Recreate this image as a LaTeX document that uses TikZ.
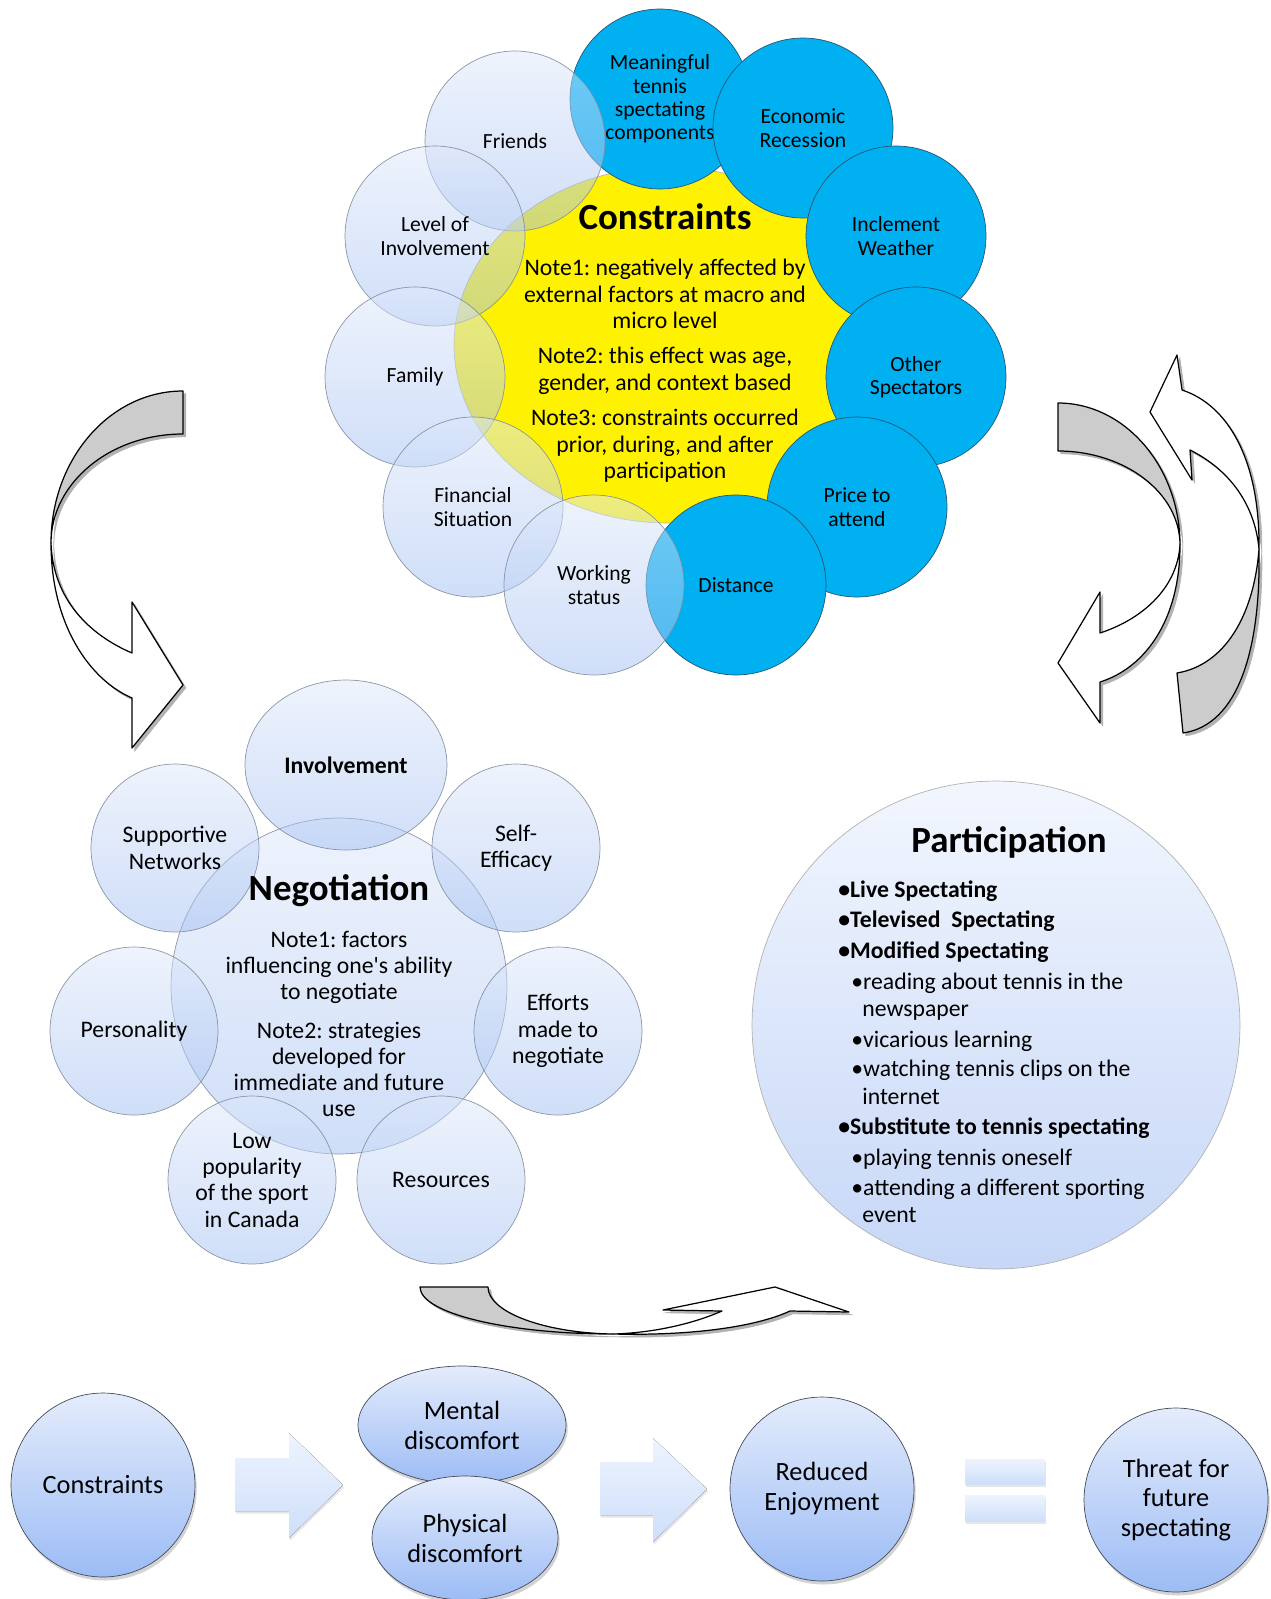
\documentclass[tikz,border=0pt]{standalone}
\usepackage{fontspec}
\setmainfont{Carlito}
\usetikzlibrary{shapes.geometric,shadows}
\frenchspacing

\definecolor{skyblue}{RGB}{0,176,240}
\definecolor{skyline}{RGB}{40,85,115}
\definecolor{paletop}{RGB}{222,232,250}
\definecolor{palebot}{RGB}{160,190,242}
\definecolor{paleline}{RGB}{130,140,160}
\definecolor{parttop}{RGB}{242,246,254}
\definecolor{partbot}{RGB}{198,215,247}
\definecolor{bubtop}{RGB}{228,236,252}
\definecolor{bubbot}{RGB}{156,188,245}
\definecolor{arrtop}{RGB}{238,244,254}
\definecolor{arrbot}{RGB}{206,223,250}
\definecolor{ribbongray}{RGB}{204,204,204}

\tikzset{
  skycirc/.style={circle, draw=skyline, fill=skyblue, minimum size=3.6cm, inner sep=0pt,
    align=center, font=\fontsize{12.3}{13.3}\selectfont},
  lite/.style={circle, draw=paleline, top color=paletop, bottom color=palebot,
    fill opacity=0.5, draw opacity=0.9, text opacity=1, minimum size=3.6cm, inner sep=0pt,
    align=center, font=\fontsize{12.3}{13.3}\selectfont},
  negcirc/.style={lite, minimum size=3.36cm, font=\fontsize{13.5}{15}\selectfont},
  note/.style={align=center, font=\fontsize{13.5}{15.1}\selectfont},
  headline/.style={font=\bfseries\fontsize{21}{25}\selectfont},
  bub/.style={ellipse, draw={rgb,255:red,70;green,75;blue,90}, top color=bubtop, bottom color=bubbot,
    drop shadow={opacity=0.35, shadow xshift=1pt, shadow yshift=-2pt},
    inner sep=0pt, align=center, font=\fontsize{15}{17}\selectfont},
  blockarrow/.style={top color=arrtop, bottom color=arrbot,
    drop shadow={opacity=0.2, shadow xshift=0.5pt, shadow yshift=-1.5pt}},
  ribbon/.style={draw=black, line width=0.7pt, line join=round,
    preaction={fill=gray!60, draw=gray!60, transform canvas={xshift=1.6pt, yshift=-1.6pt}}},
  listline/.style={anchor=west, text height=1.5ex, text depth=0.25ex, inner sep=0pt,
    font=\fontsize{13.5}{15}\selectfont}
}

\begin{document}
\begin{tikzpicture}[x=0.02cm, y=-0.02cm]
  \useasboundingbox (0,0) rectangle (1271,1599);

  % constraints
  \node[ellipse, draw=gray!60, fill=yellow, minimum width=8.56cm, minimum height=7.12cm] (core) at (668,345) {};
  \node[skycirc] (meaning) at (660,99) {Meaningful\\tennis\\spectating\\components};
  \node[skycirc] (econ) at (803,128) {Economic\\Recession};
  \node[skycirc] (weather) at (896,236) {Inclement\\Weather};
  \node[skycirc] (others) at (916,377) {Other\\Spectators};
  \node[skycirc] (price) at (857,507) {Price to\\attend};
  \node[skycirc] (dist) at (736,585) {Distance};
  \node[lite] (friends) at (515,141) {Friends};
  \node[lite] (level) at (435,236) {Level of\\Involvement};
  \node[lite] (family) at (415,377) {Family};
  \node[lite] (finance) at (473,507) {Financial\\Situation};
  \node[lite] (work) at (594,585) {Working\\status};
  \node[headline] (ctitle) at (665,217) {Constraints};
  \node[note] (cnote1) at (665,294) {Note1: negatively affected by\\external factors at macro and\\micro level};
  \node[note] (cnote2) at (665,371) {Note2: this effect was age,\\gender, and context based};
  \node[note] (cnote3) at (665,446) {Note3: constraints occurred\\prior, during, and after\\participation};

  % negotiation
  \node[negcirc, minimum size=6.72cm] (nego) at (339,986) {};
  \node[negcirc, ellipse, minimum width=4.04cm, minimum height=3.4cm, font=\bfseries\fontsize{13.5}{15}\selectfont] (invol) at (346,765) {Involvement};
  \node[negcirc] (support) at (175,848) {Supportive\\Networks};
  \node[negcirc] (selfeff) at (516,848) {Self-\\Efficacy};
  \node[negcirc] (person) at (134,1031) {Personality};
  \node[negcirc] (efforts) at (558,1031) {Efforts\\made to\\negotiate};
  \node[negcirc] (lowpop) at (252,1180) {Low\\popularity\\of the sport\\in Canada};
  \node[negcirc] (resource) at (441,1180) {Resources};
  \node[headline] (ntitle) at (339,891) {Negotiation};
  \node[note, font=\fontsize{13.5}{14.8}\selectfont] (nnote1) at (339,967) {Note1: factors\\influencing one\textquotesingle s ability\\to negotiate};
  \node[note, font=\fontsize{13.5}{14.8}\selectfont] (nnote2) at (339,1069) {Note2: strategies\\developed for\\immediate and future\\use};

  % participation
  \node[circle, draw=gray!60, top color=parttop, bottom color=partbot, minimum size=9.76cm] (part) at (996,1025) {};
  \node[headline] (ptitle) at (1009,842) {Participation};
  \foreach \yy/\xx/\itm [count=\i] in {
      892/838/{\textbf{•Live Spectating}},
      922/838/{\textbf{•Televised\ \ Spectating}},
      953/838/{\textbf{•Modified Spectating}},
      984/851/{•reading about tennis in the},
      1011/862/{newspaper},
      1042/851/{•vicarious learning},
      1071/851/{•watching tennis clips on the},
      1099/862/{internet},
      1129/838/{\textbf{•Substitute to tennis spectating}},
      1160/851/{•playing tennis oneself},
      1190/851/{•attending a different sporting},
      1217/862/{event}}
    \node[listline] (pline\i) at (\xx,\yy) {\itm};

  % curved arrows
  \filldraw[ribbon, fill=ribbongray] (183,391) .. controls (110,391) and (51,459) .. (51,543)
    .. controls (51,483) and (110,434) .. (183,434) -- cycle;
  \filldraw[ribbon, fill=white] (51,543) .. controls (51,625) and (90,680) .. (132,698) -- (132,748)
    -- (183,685) -- (132,602) -- (132,653) .. controls (90,635) and (53,600) .. cycle;

  \filldraw[ribbon, fill=ribbongray] (1058,403) .. controls (1125,403) and (1180,467) .. (1180,545)
    .. controls (1180,493) and (1125,451) .. (1058,451) -- cycle;
  \filldraw[ribbon, fill=white] (1180,545) .. controls (1180,620) and (1145,668) .. (1100,682) -- (1100,723)
    -- (1058,663) -- (1100,592) -- (1100,633) .. controls (1140,620) and (1177,590) .. cycle;

  \filldraw[ribbon, fill=ribbongray] (1177,673) -- (1183,733) .. controls (1238,725) and (1261,650) .. (1259,549)
    .. controls (1254,615) and (1225,665) .. cycle;
  \filldraw[ribbon, fill=white] (1259,549) .. controls (1260,460) and (1228,405) .. (1182,390) -- (1177,355)
    -- (1150,412) -- (1192,480) -- (1190,450) .. controls (1230,470) and (1255,505) .. cycle;

  \filldraw[ribbon, fill=ribbongray] (420,1287) -- (488,1287) .. controls (488,1312) and (544,1333) .. (613,1334)
    .. controls (506,1334) and (420,1313) .. cycle;
  \filldraw[ribbon, fill=white] (613,1334) .. controls (700,1336) and (760,1325) .. (790,1311) -- (849,1312)
    -- (775,1287) -- (663,1310) -- (722,1311) .. controls (690,1325) and (650,1333) .. cycle;

  % outcome row
  \node[bub, minimum width=3.68cm, minimum height=3.68cm] (cons) at (103,1485) {Constraints};
  \node[bub, minimum width=4.16cm, minimum height=2.36cm] (mental) at (462,1425) {Mental\\discomfort};
  \node[bub, minimum width=3.72cm, minimum height=2.48cm] (physical) at (465,1538) {Physical\\discomfort};
  \node[bub, minimum width=3.68cm, minimum height=3.68cm] (reduced) at (822,1489) {Reduced\\Enjoyment};
  \node[bub, minimum width=3.68cm, minimum height=3.68cm] (threat) at (1176,1500) {Threat for\\future\\spectating};
  \fill[blockarrow] (235,1458) -- (289,1458) -- (289,1433) -- (343,1485) -- (289,1538) -- (289,1511) -- (235,1511) -- cycle;
  \fill[blockarrow] (600,1462) -- (653,1462) -- (653,1438) -- (707,1489) -- (653,1542) -- (653,1515) -- (600,1515) -- cycle;
  \fill[blockarrow] (965,1459) rectangle (1045,1484);
  \fill[blockarrow] (965,1495) rectangle (1045,1521);
\end{tikzpicture}
\end{document}
